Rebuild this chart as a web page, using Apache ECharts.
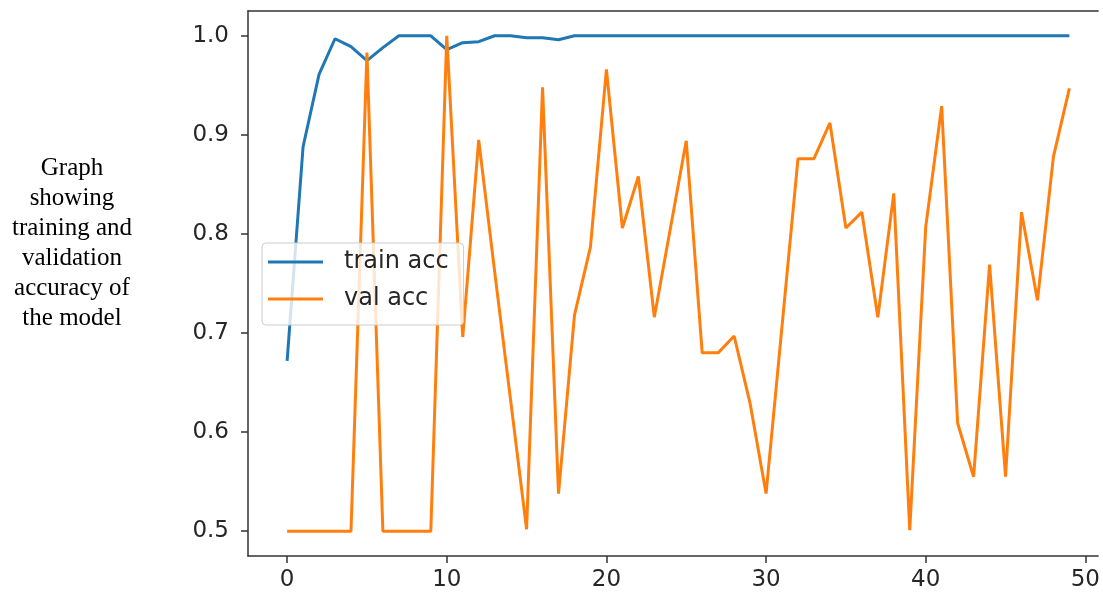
<!DOCTYPE html>
<html>
<head>
<meta charset="utf-8">
<script src="https://cdn.jsdelivr.net/npm/echarts@6/dist/echarts.min.js"></script>
<style>html,body{margin:0;padding:0;background:#fff;}#c{width:1103px;height:596px;}</style>
</head>
<body>
<div id="c"></div>
<script>
const epochs = Array.from({length: 50}, (_, i) => i);
const trainAcc = [0.672, 0.888, 0.961, 0.997, 0.989, 0.975, 0.988, 1.0, 1.0, 1.0,
  0.986, 0.993, 0.994, 1.0, 1.0, 0.998, 0.998, 0.996, 1.0, 1.0,
  1.0, 1.0, 1.0, 1.0, 1.0, 1.0, 1.0, 1.0, 1.0, 1.0,
  1.0, 1.0, 1.0, 1.0, 1.0, 1.0, 1.0, 1.0, 1.0, 1.0,
  1.0, 1.0, 1.0, 1.0, 1.0, 1.0, 1.0, 1.0, 1.0, 1.0];
const valAcc = [0.5, 0.5, 0.5, 0.5, 0.5, 0.983, 0.5, 0.5, 0.5, 0.5,
  1.0, 0.696, 0.895, 0.762, 0.632, 0.502, 0.948, 0.538, 0.718, 0.787,
  0.966, 0.806, 0.858, 0.716, 0.805, 0.894, 0.680, 0.680, 0.697, 0.629,
  0.538, 0.707, 0.876, 0.876, 0.912, 0.806, 0.822, 0.716, 0.841, 0.501,
  0.807, 0.929, 0.609, 0.555, 0.769, 0.555, 0.822, 0.733, 0.878, 0.947];
const xTicks = [0, 10, 20, 30, 40, 50];
const yTicks = [0.5, 0.6, 0.7, 0.8, 0.9, 1.0];
const seriesNames = ['train acc', 'val acc'];
const sideNote = 'Graph\nshowing\ntraining and\nvalidation\naccuracy of\nthe model';

const chart = echarts.init(document.getElementById('c'));
const spine = {show: true, onZero: false, lineStyle: {color: '#333', width: 1.5}};
const tickStyle = {color: '#333', width: 1.5};
chart.setOption({
  animation: false,
  backgroundColor: '#fff',
  grid: {left: 248, top: 11, right: 0, height: 545, show: false, containLabel: false},
  xAxis: [{
    type: 'value', min: -2.45, max: 50.8,
    axisLine: spine, splitLine: {show: false},
    axisTick: {show: true, length: 7, customValues: xTicks, lineStyle: tickStyle},
    axisLabel: {customValues: xTicks, margin: 13, fontFamily: 'DejaVu Sans', fontSize: 23, color: '#262626'}
  }, {
    type: 'value', position: 'top', min: -2.45, max: 50.8,
    axisLine: spine, splitLine: {show: false}, axisTick: {show: false}, axisLabel: {show: false}
  }],
  yAxis: {
    type: 'value', min: 0.475, max: 1.025,
    axisLine: spine, splitLine: {show: false},
    axisTick: {show: true, length: 7, customValues: yTicks, lineStyle: tickStyle},
    axisLabel: {customValues: yTicks, margin: 19, fontFamily: 'DejaVu Sans', fontSize: 23, color: '#262626',
      formatter: v => v.toFixed(1)}
  },
  legend: {
    left: 262, top: 243, orient: 'vertical', icon: 'rect',
    padding: [7, 15, 14, 6], itemWidth: 55, itemHeight: 3, itemGap: 13,
    backgroundColor: 'rgba(255,255,255,0.8)', borderColor: '#ccc', borderWidth: 1, borderRadius: 4,
    textStyle: {fontFamily: 'DejaVu Sans', fontSize: 24, lineHeight: 24, color: '#262626', padding: [0, 0, 0, 16]},
    data: seriesNames
  },
  graphic: [{
    type: 'text', x: 72, y: 153,
    style: {text: sideNote, font: '25px "Liberation Serif"', fill: '#000', lineHeight: 30,
      textAlign: 'center', textVerticalAlign: 'top'}
  }],
  series: [
    {name: seriesNames[0], type: 'line', symbol: 'none', data: epochs.map((e, i) => [e, trainAcc[i]]),
      lineStyle: {color: '#1f77b4', width: 3}, itemStyle: {color: '#1f77b4'}},
    {name: seriesNames[1], type: 'line', symbol: 'none', data: epochs.map((e, i) => [e, valAcc[i]]),
      lineStyle: {color: '#ff7f0e', width: 3}, itemStyle: {color: '#ff7f0e'}}
  ]
});
</script>
</body>
</html>
